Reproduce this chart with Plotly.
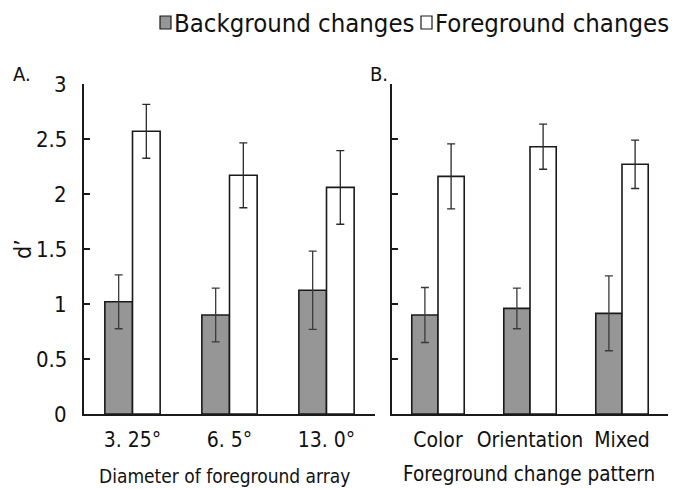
import plotly.graph_objects as go

# Panel A
cats_a = ["3. 25°", "6. 5°", "13. 0°"]
bg_a = [1.02, 0.90, 1.125]
bg_a_err = [0.245, 0.245, 0.355]
fg_a = [2.57, 2.17, 2.06]
fg_a_err = [0.245, 0.295, 0.335]

# Panel B
cats_b = ["Color", "Orientation", "Mixed"]
bg_b = [0.90, 0.96, 0.915]
bg_b_err = [0.25, 0.185, 0.34]
fg_b = [2.16, 2.43, 2.27]
fg_b_err = [0.295, 0.205, 0.22]

y_ticks = [0, 0.5, 1, 1.5, 2, 2.5, 3]
y_ticklabels = ["0", "0.5", "1", "1.5", "2", "2.5", "3"]

GREY = "#969696"
LINE = "#1a1a1a"
FONT = "DejaVu Sans Condensed"
TXT = "#111"

# page has an 8px body margin; convert window pixels to paper coords
OFF = 8
W, H = 683, 489


def px(x):
    return (x - OFF) / W


def py(y):
    return 1 - (y - OFF) / H


fig = go.Figure()


def add_pair(cats, bg, bge, fg, fge, xa, ya):
    fig.add_trace(go.Bar(
        x=cats, y=bg, name="Background changes", xaxis=xa, yaxis=ya,
        marker=dict(color=GREY, line=dict(color=LINE, width=1.6)),
        error_y=dict(type="data", array=bge, color="#3a3a3a", thickness=1.3, width=4),
        showlegend=False))
    fig.add_trace(go.Bar(
        x=cats, y=fg, name="Foreground changes", xaxis=xa, yaxis=ya,
        marker=dict(color="white", line=dict(color=LINE, width=1.6)),
        error_y=dict(type="data", array=fge, color="#2a2a2a", thickness=1.3, width=4),
        showlegend=False))


add_pair(cats_a, bg_a, bg_a_err, fg_a, fg_a_err, "x", "y")
add_pair(cats_b, bg_b, bg_b_err, fg_b, fg_b_err, "x2", "y2")

ydom = [py(414), py(84)]

axis_common = dict(showgrid=False, zeroline=False, showline=True, linecolor=LINE, linewidth=2,
                   automargin=False)

fig.update_layout(
    width=W, height=H,
    margin=dict(l=0, r=0, t=0, b=0),
    paper_bgcolor="white", plot_bgcolor="white",
    barmode="group", bargap=0.43, bargroupgap=0,
    showlegend=False,
    xaxis=dict(domain=[px(84), px(375)], anchor="y", ticks="", ticklabelstandoff=6,
               tickfont=dict(family=FONT, size=21, color=TXT), **axis_common),
    xaxis2=dict(domain=[px(392), px(668)], anchor="y2", ticks="", ticklabelstandoff=6,
                tickfont=dict(family=FONT, size=21, color=TXT), **axis_common),
    yaxis=dict(domain=ydom, anchor="x", range=[0, 3], tickvals=y_ticks, showticklabels=False,
               ticks="inside", ticklen=6, tickwidth=1.5, tickcolor=LINE,
               **axis_common),
    yaxis2=dict(domain=ydom, anchor="x2", range=[0, 3], tickvals=y_ticks, showticklabels=False,
                ticks="inside", ticklen=6, tickwidth=1.5, tickcolor=LINE,
                **axis_common),
)

# y tick labels placed on the y scale, set further from the axis
for v, t in zip(y_ticks, y_ticklabels):
    fig.add_annotation(x=px(69), y=v, xref="paper", yref="y", text=t, showarrow=False,
                       xanchor="right", yanchor="middle",
                       font=dict(family=FONT, size=22, color=TXT))

# axis titles
fig.add_annotation(x=px(224), y=py(476), xref="paper", yref="paper",
                   text="Diameter of foreground array", showarrow=False,
                   xanchor="center", yanchor="middle", font=dict(family=FONT, size=19, color=TXT))
fig.add_annotation(x=px(529), y=py(474), xref="paper", yref="paper",
                   text="Foreground change pattern", showarrow=False,
                   xanchor="center", yanchor="middle", font=dict(family=FONT, size=20.5, color=TXT))
fig.add_annotation(x=px(8), y=py(249), xref="paper", yref="paper", text="d’", textangle=-90,
                   showarrow=False, xanchor="left", yanchor="middle",
                   font=dict(family=FONT, size=23, color=TXT))

# panel labels
fig.add_annotation(x=px(11), y=py(74), xref="paper", yref="paper", text="A.",
                   showarrow=False, xanchor="left", yanchor="middle",
                   font=dict(family=FONT, size=20, color=TXT))
fig.add_annotation(x=px(368), y=py(74), xref="paper", yref="paper", text="B.",
                   showarrow=False, xanchor="left", yanchor="middle",
                   font=dict(family=FONT, size=20, color=TXT))

# legend (drawn manually)
leg_y = 23
for x0, fill, label in [(160, GREY, "Background changes"), (421, "white", "Foreground changes")]:
    fig.add_shape(type="rect", xref="paper", yref="paper",
                  x0=px(x0), x1=px(x0 + 11),
                  y0=py(leg_y + 6), y1=py(leg_y - 7),
                  fillcolor=fill, line=dict(color=LINE, width=1.2))
    fig.add_annotation(x=px(x0 + 12), y=py(leg_y), xref="paper", yref="paper",
                       text=label, showarrow=False, xanchor="left", yanchor="middle",
                       font=dict(family=FONT, size=25.5, color=TXT))

fig.write_html("out.html")
